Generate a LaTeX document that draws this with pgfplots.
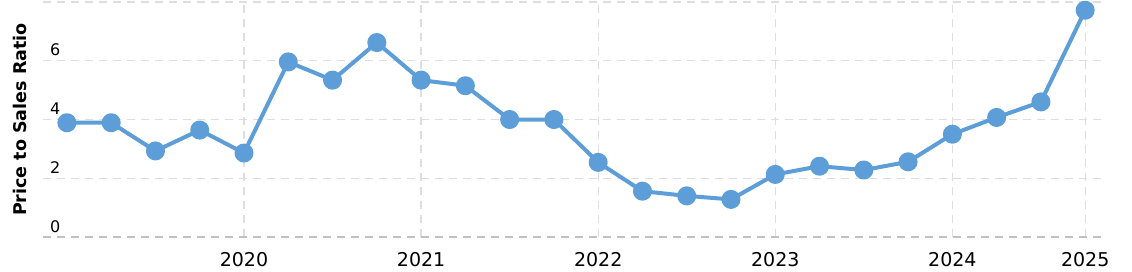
\documentclass[border=0pt]{standalone}
\usepackage{fontspec}
\setmainfont{DejaVu Sans}
\usepackage{pgfplots}
\pgfplotsset{compat=1.18}
\definecolor{linec}{RGB}{93,158,216}
\definecolor{gridc}{RGB}{222,222,222}
\definecolor{basec}{RGB}{192,192,192}
\begin{document}
\begin{tikzpicture}
\begin{axis}[
  scale only axis, width=1059pt, height=235pt,
  xmin=-0.54, xmax=23.38, ymin=0, ymax=8,
  axis line style={draw=none},
  major tick length=0pt,
  xtick={4,8,12,16,20,23}, xticklabels={2020,2021,2022,2023,2024,2025},
  ytick={0,2,4,6,8}, yticklabels={0,2,4,6,{}},
  grid=major,
  major grid style={gridc, dash pattern=on 8pt off 6pt, line width=1.2pt},
  xticklabel style={font=\fontsize{19}{19}\selectfont, anchor=north, inner sep=0pt, yshift=-15pt},
  yticklabel style={font=\fontsize{16}{16}\selectfont, anchor=base west, inner sep=0pt, xshift=7pt, yshift=5pt},
  /pgf/number format/assume math mode=true,
  clip=false,
]
\draw[basec, dash pattern=on 8pt off 6pt, line width=1.2pt] (rel axis cs:0,0) -- (rel axis cs:1,0);
\addplot[linec, line width=4pt, line join=round, mark=*, mark size=7.5pt, mark options={solid, fill=linec, draw=none}] coordinates {
(0,3.89) (1,3.89) (2,2.93) (3,3.64) (4,2.86) (5,5.96) (6,5.34) (7,6.62)
(8,5.34) (9,5.15) (10,4.00) (11,4.00) (12,2.54) (13,1.56) (14,1.40) (15,1.28)
(16,2.13) (17,2.41) (18,2.28) (19,2.56) (20,3.50) (21,4.07) (22,4.60) (23,7.72)
};
\coordinate (sw) at (rel axis cs:0,0);
\coordinate (ne) at (rel axis cs:1,1);
\coordinate (mid) at (rel axis cs:0,0.5);
\end{axis}
\node[rotate=90, anchor=center, font=\bfseries\fontsize{17.5}{17.5}\selectfont] at ([xshift=-23pt]mid) {Price to Sales Ratio};
\pgfresetboundingbox
\path ([shift={(-43pt,-34pt)}]sw) rectangle ([shift={(30pt,2pt)}]ne);
\end{tikzpicture}
\end{document}
